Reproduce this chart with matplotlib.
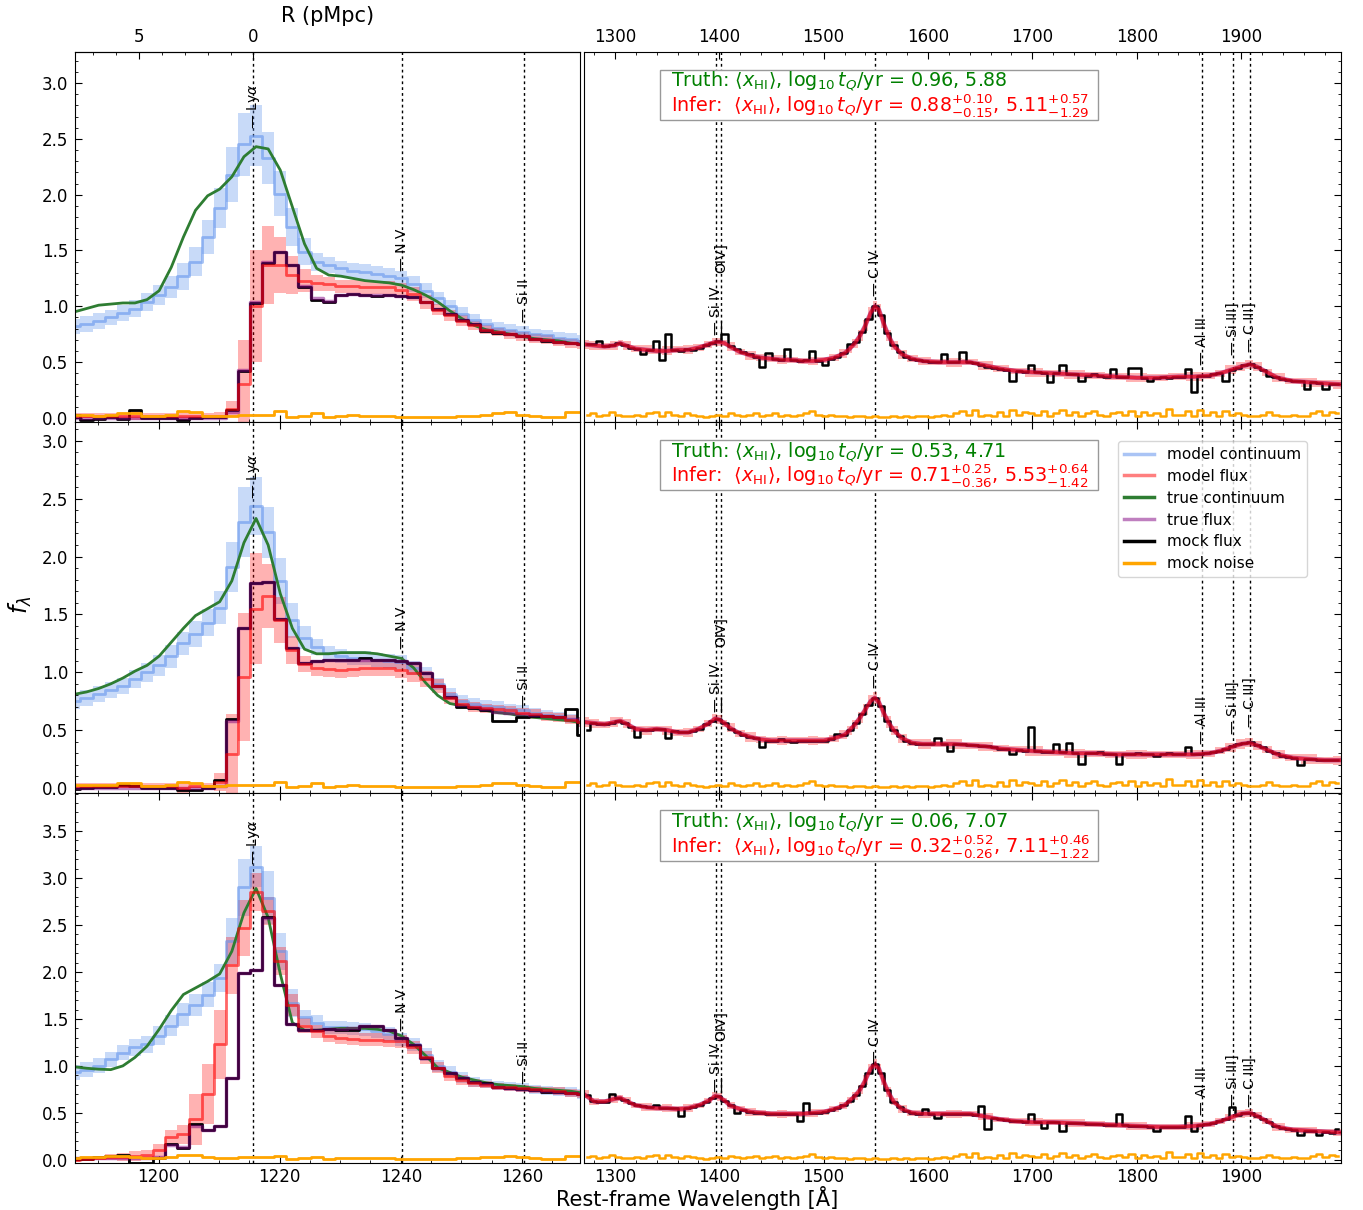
import numpy as np
import matplotlib
matplotlib.use("Agg")
import matplotlib.pyplot as plt
from matplotlib.lines import Line2D
from matplotlib.patches import Rectangle
from matplotlib.ticker import MultipleLocator, FixedLocator

# ------------------------------------------------------------------ data
LYA = 1215.67
ANG_PER_PMPC = 3.78

# left panels: 2 A bins (centres)
lam_left = 1186.1 + 2.0 * np.arange(43)

# ---- row 1
mc1 = [0.82,0.84,0.87,0.90,0.94,0.98,1.04,1.10,1.17,1.27,1.40,1.62,1.88,2.18,2.45,2.53,2.33,2.01,1.71,1.49,
       1.40,1.37,1.34,1.32,1.31,1.29,1.27,1.25,1.20,1.14,1.07,1.00,0.93,0.88,0.84,0.81,0.79,0.77,0.75,0.74,
       0.72,0.71,0.69]
mc1_err = [0.07,0.07,0.07,0.07,0.07,0.08,0.08,0.09,0.10,0.12,0.13,0.15,0.18,0.25,0.28,0.27,0.23,0.20,0.17,0.12,
           0.08,0.07,0.07,0.07,0.07,0.07,0.07,0.07,0.07,0.07,0.06,0.06,0.06,0.05,0.05,0.05,0.05,0.05,0.05,0.05,
           0.05,0.05,0.05]
mf1 = [0.02,0.02,0.02,0.02,0.02,0.02,0.02,0.02,0.02,0.02,0.02,0.02,0.02,0.08,0.30,1.00,1.37,1.37,1.28,1.23,
       1.21,1.20,1.18,1.18,1.17,1.17,1.17,1.15,1.11,1.04,0.97,0.92,0.87,0.83,0.79,0.77,0.75,0.73,0.71,0.70,
       0.68,0.67,0.66]
mf1_err = [0.02,0.02,0.02,0.02,0.02,0.04,0.02,0.02,0.02,0.04,0.02,0.02,0.03,0.07,0.40,0.50,0.35,0.25,0.17,0.10,
           0.07,0.06,0.06,0.06,0.06,0.06,0.06,0.06,0.06,0.06,0.05,0.05,0.05,0.04,0.04,0.04,0.04,0.04,0.04,0.04,
           0.04,0.04,0.04]
tc1 = [0.95,0.98,1.01,1.02,1.03,1.03,1.06,1.14,1.35,1.62,1.86,1.99,2.05,2.16,2.34,2.43,2.41,2.22,1.89,1.56,
       1.34,1.28,1.27,1.25,1.23,1.22,1.21,1.19,1.15,1.10,1.04,0.96,0.89,0.83,0.79,0.77,0.75,0.73,0.71,0.70,
       0.69,0.67,0.66]
tf1 = [0.0,0.0,0.0,0.0,0.0,0.0,0.0,0.0,0.0,0.0,0.0,0.0,0.0,0.05,0.43,1.04,1.40,1.49,1.37,1.18,
       1.07,1.05,1.10,1.11,1.10,1.10,1.10,1.09,1.08,1.04,0.98,0.93,0.88,0.84,0.79,0.77,0.75,0.73,0.71,0.70,
       0.68,0.67,0.66]
mk1 = [0.03,-0.02,-0.01,0.01,-0.01,0.07,0.00,0.00,0.00,-0.02,0.00,0.01,0.01,0.07,0.42,1.03,1.39,1.49,1.37,1.17,
       1.06,1.04,1.10,1.11,1.10,1.09,1.10,1.09,1.08,1.04,0.98,0.93,0.88,0.84,0.78,0.76,0.75,0.73,0.71,0.69,
       0.68,0.67,0.66]
ns1 = [0.03,0.03,0.02,0.03,0.04,0.04,0.02,0.02,0.03,0.06,0.05,0.02,0.02,0.02,0.03,0.03,0.03,0.06,0.01,0.02,
       0.04,0.01,0.02,0.03,0.02,0.02,0.02,0.01,0.01,0.01,0.01,0.01,0.02,0.02,0.03,0.04,0.05,0.03,0.02,0.01,
       0.01,0.05,0.05]

# ---- row 2
mc2 = [0.75,0.78,0.81,0.85,0.88,0.94,1.00,1.06,1.14,1.25,1.33,1.43,1.56,1.91,2.30,2.44,2.21,1.79,1.45,1.30,
       1.22,1.17,1.14,1.12,1.12,1.11,1.10,1.09,1.04,0.99,0.90,0.81,0.75,0.73,0.71,0.70,0.68,0.67,0.65,0.63,
       0.62,0.60,0.57]
mc2_err = [0.07,0.07,0.07,0.07,0.07,0.08,0.08,0.09,0.10,0.10,0.11,0.12,0.14,0.22,0.30,0.25,0.22,0.20,0.15,0.10,
           0.07,0.06,0.06,0.06,0.06,0.06,0.06,0.06,0.06,0.06,0.05,0.05,0.05,0.05,0.05,0.05,0.05,0.05,0.04,0.04,
           0.04,0.04,0.04]
mf2 = [0.02,0.02,0.02,0.02,0.02,0.02,0.02,0.02,0.02,0.00,0.02,0.02,0.05,0.29,0.96,1.55,1.66,1.45,1.19,1.07,
       1.04,1.03,1.02,1.03,1.04,1.04,1.04,1.02,0.99,0.94,0.88,0.78,0.73,0.70,0.69,0.68,0.67,0.65,0.64,0.62,
       0.61,0.59,0.57]
mf2_err = [0.02,0.02,0.02,0.02,0.02,0.02,0.02,0.02,0.02,0.04,0.02,0.02,0.08,0.35,0.55,0.48,0.28,0.20,0.12,0.07,
           0.07,0.07,0.07,0.07,0.07,0.07,0.07,0.07,0.07,0.07,0.06,0.05,0.04,0.04,0.04,0.04,0.04,0.04,0.04,0.04,
           0.04,0.04,0.04]
tc2 = [0.81,0.83,0.86,0.90,0.95,1.01,1.06,1.14,1.26,1.38,1.49,1.55,1.61,1.79,2.12,2.33,2.10,1.68,1.38,1.20,
       1.16,1.16,1.17,1.17,1.17,1.16,1.14,1.12,1.04,0.91,0.80,0.73,0.71,0.69,0.67,0.65,0.64,0.62,0.61,0.60,
       0.59,0.58,0.56]
tf2 = [0.0,0.0,0.0,0.0,0.0,0.0,0.0,0.0,0.0,0.0,0.0,0.0,0.02,0.58,1.38,1.77,1.78,1.46,1.21,1.08,
       1.10,1.11,1.11,1.11,1.11,1.11,1.11,1.10,1.08,0.99,0.88,0.79,0.72,0.70,0.68,0.66,0.65,0.64,0.63,0.62,
       0.61,0.60,0.58]
mk2 = [-0.01,0.00,0.01,0.01,0.03,0.02,0.00,0.00,0.00,-0.02,-0.02,0.00,0.07,0.60,1.38,1.77,1.78,1.46,1.21,1.08,
       1.10,1.11,1.11,1.11,1.12,1.11,1.11,1.10,1.08,0.99,0.88,0.79,0.70,0.69,0.67,0.58,0.58,0.61,0.62,0.62,
       0.61,0.68,0.46]
ns2 = [0.03,0.03,0.03,0.03,0.04,0.04,0.02,0.02,0.03,0.05,0.04,0.02,0.02,0.03,0.03,0.03,0.03,0.05,0.01,0.02,
       0.04,0.01,0.02,0.03,0.02,0.02,0.02,0.01,0.01,0.01,0.01,0.01,0.02,0.02,0.03,0.04,0.04,0.03,0.02,0.01,
       0.01,0.05,0.05]

# ---- row 3
mc3 = [0.93,0.96,1.00,1.07,1.14,1.20,1.23,1.32,1.43,1.55,1.65,1.76,1.94,2.33,2.90,3.12,2.79,2.22,1.67,1.52,
       1.46,1.41,1.41,1.40,1.39,1.37,1.34,1.28,1.23,1.12,1.00,0.94,0.88,0.83,0.81,0.79,0.78,0.77,0.75,0.74,
       0.73,0.72,0.70]
mc3_err = [0.08,0.08,0.08,0.08,0.08,0.09,0.09,0.10,0.11,0.12,0.12,0.13,0.15,0.25,0.30,0.22,0.28,0.20,0.15,0.08,
           0.08,0.07,0.07,0.07,0.07,0.07,0.07,0.07,0.07,0.07,0.06,0.06,0.06,0.05,0.05,0.05,0.05,0.05,0.05,0.05,
           0.05,0.05,0.05]
mf3 = [0.00,0.01,0.02,0.03,0.03,0.04,0.05,0.10,0.24,0.27,0.43,0.70,1.23,2.07,2.47,2.85,2.65,2.12,1.65,1.43,
       1.37,1.32,1.30,1.29,1.28,1.28,1.27,1.26,1.20,1.09,0.98,0.89,0.85,0.82,0.80,0.78,0.77,0.76,0.75,0.74,
       0.73,0.71,0.70]
mf3_err = [0.02,0.02,0.02,0.03,0.04,0.05,0.05,0.07,0.08,0.10,0.27,0.32,0.37,0.30,0.30,0.20,0.15,0.15,0.12,0.08,
           0.07,0.07,0.07,0.07,0.07,0.07,0.07,0.07,0.07,0.07,0.06,0.05,0.05,0.04,0.04,0.04,0.04,0.04,0.04,0.04,
           0.04,0.04,0.04]
tc3 = [0.99,0.975,0.965,0.96,1.00,1.09,1.21,1.39,1.59,1.76,1.83,1.90,1.98,2.22,2.63,2.89,2.58,1.98,1.46,1.38,
       1.38,1.39,1.40,1.40,1.40,1.39,1.37,1.32,1.23,1.11,0.98,0.93,0.88,0.85,0.82,0.80,0.79,0.78,0.76,0.75,
       0.74,0.73,0.71]
tf3 = [0.02,0.02,0.02,0.02,0.02,0.02,0.02,0.03,0.16,0.14,0.36,0.32,0.36,0.87,1.99,2.02,2.58,1.86,1.45,1.38,
       1.38,1.39,1.39,1.40,1.42,1.43,1.38,1.30,1.22,1.08,0.98,0.92,0.87,0.83,0.81,0.78,0.76,0.75,0.74,0.73,
       0.72,0.71,0.70]
mk3 = [0.02,0.01,0.03,0.04,0.05,-0.03,-0.03,0.02,0.17,0.13,0.38,0.32,0.36,0.87,1.99,2.02,2.59,1.86,1.45,1.38,
       1.38,1.39,1.38,1.38,1.42,1.43,1.38,1.30,1.22,1.08,0.98,0.92,0.87,0.83,0.82,0.78,0.76,0.75,0.74,0.72,
       0.72,0.71,0.70]
ns3 = [0.02,0.03,0.03,0.04,0.04,0.03,0.02,0.02,0.03,0.05,0.05,0.03,0.02,0.02,0.03,0.03,0.03,0.04,0.01,0.02,
       0.03,0.01,0.02,0.02,0.02,0.02,0.02,0.01,0.01,0.01,0.01,0.01,0.02,0.02,0.03,0.03,0.04,0.03,0.02,0.01,
       0.01,0.04,0.04]

# right panels: smooth spectrum nodes (Angstrom)
lam_nodes = [1270,1280,1290,1300,1305,1310,1320,1330,1340,1350,1360,1370,1380,1390,1396,1400,1405,1410,1420,1430,
             1440,1450,1460,1470,1480,1490,1500,1510,1520,1525,1530,1535,1540,1545,1549,1553,1557,1562,1567,1575,
             1585,1595,1610,1625,1640,1655,1670,1685,1700,1720,1740,1760,1780,1800,1820,1840,1855,1870,1880,1890,
             1900,1908,1915,1925,1935,1950,1965,1980,1997]
cont_r1 = [0.66,0.65,0.64,0.65,0.67,0.65,0.62,0.61,0.60,0.60,0.61,0.61,0.63,0.66,0.68,0.68,0.67,0.64,0.59,0.56,
           0.54,0.53,0.52,0.52,0.51,0.51,0.52,0.54,0.58,0.62,0.67,0.74,0.83,0.94,1.00,0.97,0.86,0.74,0.65,0.57,
           0.53,0.51,0.50,0.50,0.50,0.47,0.44,0.42,0.41,0.40,0.39,0.38,0.37,0.36,0.36,0.37,0.37,0.38,0.40,0.43,
           0.46,0.48,0.46,0.41,0.36,0.33,0.32,0.31,0.30]
cont_r2 = [0.57,0.56,0.55,0.57,0.58,0.56,0.51,0.50,0.51,0.50,0.48,0.48,0.51,0.56,0.60,0.59,0.56,0.52,0.47,0.44,
           0.42,0.41,0.41,0.41,0.41,0.41,0.41,0.43,0.46,0.50,0.55,0.61,0.68,0.75,0.78,0.74,0.66,0.57,0.50,0.43,
           0.39,0.38,0.38,0.38,0.37,0.36,0.34,0.33,0.32,0.31,0.30,0.30,0.29,0.29,0.29,0.29,0.29,0.30,0.32,0.35,
           0.38,0.39,0.37,0.33,0.29,0.26,0.25,0.24,0.24]
cont_r3 = [0.70,0.62,0.62,0.65,0.66,0.63,0.58,0.56,0.55,0.55,0.54,0.55,0.58,0.63,0.68,0.67,0.63,0.58,0.54,0.51,
           0.50,0.49,0.49,0.49,0.49,0.50,0.51,0.54,0.58,0.63,0.68,0.75,0.85,0.97,1.02,0.97,0.85,0.72,0.62,0.54,
           0.50,0.49,0.49,0.49,0.49,0.46,0.43,0.41,0.40,0.40,0.39,0.38,0.37,0.36,0.35,0.35,0.36,0.38,0.41,0.45,
           0.49,0.50,0.47,0.41,0.35,0.32,0.31,0.30,0.29]
mf_err_right = [0.04,0.04,0.03,0.04,0.03,0.04,0.03,0.04,0.03,0.04,0.03,0.04,0.03,0.03,0.04,0.04,0.03,0.04,0.03,0.04,
                0.03,0.03,0.04,0.03,0.03,0.04,0.03,0.03,0.04,0.04,0.04,0.05,0.05,0.05,0.05,0.05,0.05,0.05,0.04,0.04,
                0.03,0.04,0.03,0.04,0.03,0.04,0.03,0.03,0.04,0.03,0.04,0.03,0.03,0.04,0.03,0.03,0.04,0.03,0.03,0.04,
                0.04,0.04,0.04,0.03,0.04,0.03,0.04,0.03,0.04]

# right panels: 6 A bins for mock flux / noise
lam_rbins = 1273.0 + 6.0 * np.arange(121)
mk_r1 = [0.66,0.66,0.69,0.64,0.65,0.67,0.65,0.63,0.62,0.57, 0.61,0.69,0.52,0.75,0.61,0.60,0.62,0.61,0.63,0.65,
         0.67,0.69,0.75,0.64,0.62,0.59,0.57,0.55,0.46,0.58, 0.53,0.52,0.62,0.52,0.51,0.52,0.60,0.51,0.47,0.53,
         0.55,0.58,0.66,0.68,0.77,0.89,1.00,0.92,0.76,0.65, 0.59,0.55,0.53,0.52,0.51,0.50,0.50,0.57,0.50,0.50,
         0.59,0.50,0.49,0.47,0.46,0.45,0.44,0.43,0.33,0.42, 0.41,0.47,0.41,0.40,0.32,0.40,0.47,0.39,0.39,0.33,
         0.38,0.39,0.38,0.37,0.44,0.37,0.37,0.45,0.45,0.36, 0.33,0.36,0.37,0.36,0.37,0.37,0.44,0.23,0.38,0.38,
         0.39,0.40,0.33,0.43,0.45,0.47,0.48,0.46,0.43,0.38, 0.37,0.35,0.34,0.33,0.33,0.26,0.32,0.31,0.26,0.30,
         0.30]
mk_r2 = [0.50,0.56,0.55,0.55,0.56,0.58,0.56,0.53,0.44,0.50, 0.50,0.51,0.51,0.43,0.49,0.48,0.48,0.49,0.51,0.55,
         0.58,0.60,0.56,0.51,0.48,0.46,0.44,0.43,0.35,0.41, 0.41,0.42,0.41,0.40,0.41,0.41,0.41,0.41,0.41,0.42,
         0.47,0.46,0.50,0.56,0.64,0.72,0.78,0.71,0.58,0.50, 0.45,0.41,0.39,0.38,0.38,0.38,0.43,0.38,0.32,0.38,
         0.38,0.37,0.37,0.36,0.36,0.35,0.34,0.34,0.29,0.33, 0.32,0.53,0.32,0.31,0.31,0.38,0.31,0.39,0.30,0.21,
         0.30,0.30,0.31,0.29,0.29,0.21,0.29,0.29,0.30,0.29, 0.29,0.28,0.29,0.30,0.29,0.29,0.35,0.29,0.29,0.30,
         0.31,0.32,0.34,0.36,0.38,0.39,0.40,0.37,0.35,0.32, 0.30,0.28,0.27,0.26,0.20,0.25,0.25,0.24,0.24,0.24,
         0.24]
mk_r3 = [0.69,0.63,0.62,0.62,0.70,0.66,0.64,0.60,0.58,0.57, 0.56,0.58,0.55,0.55,0.55,0.47,0.55,0.56,0.58,0.62,
         0.66,0.68,0.63,0.58,0.50,0.53,0.51,0.50,0.50,0.49, 0.49,0.49,0.49,0.49,0.41,0.61,0.50,0.50,0.51,0.53,
         0.55,0.58,0.63,0.69,0.79,0.92,1.02,0.92,0.74,0.62, 0.56,0.52,0.50,0.49,0.54,0.49,0.45,0.49,0.49,0.49,
         0.49,0.49,0.48,0.57,0.33,0.45,0.43,0.42,0.41,0.41, 0.40,0.49,0.40,0.34,0.40,0.40,0.31,0.39,0.39,0.39,
         0.38,0.38,0.38,0.37,0.37,0.49,0.37,0.36,0.36,0.36, 0.35,0.31,0.35,0.35,0.35,0.35,0.47,0.31,0.37,0.38,
         0.39,0.41,0.43,0.56,0.48,0.50,0.50,0.47,0.43,0.40, 0.36,0.34,0.33,0.32,0.26,0.31,0.31,0.26,0.30,0.29,
         0.33]
ns_right = [0.03,0.04,0.02,0.03,0.05,0.03,0.02,0.02,0.03,0.02, 0.04,0.05,0.02,0.05,0.03,0.02,0.04,0.03,0.02,0.01,
            0.02,0.03,0.02,0.04,0.03,0.02,0.03,0.04,0.02,0.03, 0.04,0.02,0.03,0.02,0.03,0.04,0.06,0.03,0.02,0.03,
            0.02,0.02,0.01,0.02,0.02,0.01,0.02,0.01,0.01,0.02, 0.01,0.02,0.01,0.02,0.02,0.01,0.02,0.03,0.02,0.04,
            0.06,0.03,0.07,0.02,0.03,0.02,0.05,0.02,0.07,0.03, 0.05,0.04,0.03,0.06,0.02,0.04,0.07,0.03,0.05,0.02,
            0.04,0.06,0.03,0.02,0.04,0.05,0.03,0.06,0.02,0.05, 0.03,0.04,0.02,0.08,0.03,0.03,0.06,0.02,0.07,0.03,
            0.05,0.02,0.06,0.03,0.04,0.03,0.02,0.02,0.03,0.05, 0.03,0.02,0.02,0.03,0.02,0.02,0.04,0.06,0.03,0.05,
            0.04]

truth_vals = [("0.96", "5.88"), ("0.53", "4.71"), ("0.06", "7.07")]
infer_vals = [("0.88", "+0.10", "-0.15", "5.11", "+0.57", "-1.29"),
              ("0.71", "+0.25", "-0.36", "5.53", "+0.64", "-1.42"),
              ("0.32", "+0.52", "-0.26", "7.11", "+0.46", "-1.22")]

left_lines = [("Ly$\\alpha$", 1215.67), ("N V", 1240.14), ("Si II", 1260.42)]
right_lines = [("Si IV", 1396.76), ("OIV]", 1402.06), ("C IV", 1549.06),
               ("Al III", 1862.79), ("Si III]", 1892.03), ("C III]", 1908.73)]

legend_labels = ["model continuum", "model flux", "true continuum", "true flux", "mock flux", "mock noise"]

# ------------------------------------------------------------------ style / layout
GREEN = "#2e7d32"
C_MC = "cornflowerblue"
C_MF = "red"
C_TF = "purple"
C_NS = "orange"

rows_left = [
    (mc1, mc1_err, mf1, mf1_err, tc1, tf1, mk1, ns1),
    (mc2, mc2_err, mf2, mf2_err, tc2, tf2, mk2, ns2),
    (mc3, mc3_err, mf3, mf3_err, tc3, tf3, mk3, ns3),
]
rows_right = [(cont_r1, mk_r1), (cont_r2, mk_r2), (cont_r3, mk_r3)]
ylims = [(-0.039, 3.278), (-0.040, 3.161), (-0.033, 3.91)]

# label heights (bottom of text, data units) per row
lab_y_left = [{"Ly$\\alpha$": 2.59, "N V": 1.32, "Si II": 0.86},
              {"Ly$\\alpha$": 2.50, "N V": 1.20, "Si II": 0.69},
              {"Ly$\\alpha$": 3.14, "N V": 1.37, "Si II": 0.81}]
lab_y_right = [{"Si IV": 0.74, "OIV]": 1.30, "C IV": 1.09, "Al III": 0.47, "Si III]": 0.56, "C III]": 0.59},
               {"Si IV": 0.66, "OIV]": 1.22, "C IV": 0.86, "Al III": 0.38, "Si III]": 0.47, "C III]": 0.53},
               {"Si IV": 0.72, "OIV]": 1.27, "C IV": 1.02, "Al III": 0.48, "Si III]": 0.56, "C III]": 0.56}]

W, H = 1363, 1210
fig = plt.figure(figsize=(W / 100, H / 100), dpi=100)

xl0, xl1 = 75, 580
xr0, xr1 = 584, 1341
top0 = 52
row_h = 370.3

FS_TICK = 12
LAB_FS = 10
DOT = (0, (2, 2.2))
BOX_FS = 13.8


def to_fig(x0, x1, y_top, y_bot):
    return [x0 / W, 1 - y_bot / H, (x1 - x0) / W, (y_bot - y_top) / H]


def step(ax, x, y, **kw):
    n = min(len(x), len(y))
    ax.plot(np.asarray(x)[:n], np.asarray(y)[:n], drawstyle="steps-mid", **kw)


def band(ax, x, y, e, **kw):
    n = min(len(x), len(y), len(e))
    y = np.asarray(y[:n]); e = np.asarray(e[:n])
    ax.fill_between(np.asarray(x)[:n], y - e, y + e, step="mid", lw=0, **kw)


rw = xr1 - xr0
for i in range(3):
    yt = top0 + row_h * i
    yb = yt + row_h
    axL = fig.add_axes(to_fig(xl0, xl1, yt, yb))
    axR = fig.add_axes(to_fig(xr0, xr1, yt, yb))
    ylo, yhi = ylims[i]
    px_per_unit = row_h / (yhi - ylo)

    mc, mce, mf, mfe, tc, tf, mk, ns = rows_left[i]
    # ---- left panel
    band(axL, lam_left, mc, mce, color=C_MC, alpha=0.35)
    band(axL, lam_left, mf, mfe, color=C_MF, alpha=0.3)
    step(axL, lam_left, mc, color=C_MC, alpha=0.6, lw=2)
    n = min(len(lam_left), len(tc))
    axL.plot(lam_left[:n], tc[:n], color=GREEN, lw=2)
    step(axL, lam_left, mk, color="k", lw=2)
    step(axL, lam_left, tf, color=C_TF, alpha=0.5, lw=2.5)
    step(axL, lam_left, mf, color=C_MF, alpha=0.6, lw=2)
    step(axL, lam_left, ns, color=C_NS, lw=2)

    for name, w in left_lines:
        axL.axvline(w, color="k", ls=DOT, lw=1.0, zorder=0.5)
        axL.text(w, lab_y_left[i][name], "\u2014 " + name, rotation=90, ha="center", va="bottom",
                 fontsize=LAB_FS)

    axL.set_xlim(1186.2, 1269.6)
    axL.set_ylim(ylo, yhi)
    axL.xaxis.set_major_locator(MultipleLocator(20))
    axL.xaxis.set_minor_locator(MultipleLocator(5))
    axL.yaxis.set_major_locator(MultipleLocator(0.5))
    axL.yaxis.set_minor_locator(MultipleLocator(0.1))
    axL.tick_params(which="both", direction="in", top=(i > 0), bottom=True, left=True, right=False,
                    labelbottom=(i == 2), labeltop=False, labelsize=FS_TICK, pad=5)
    axL.tick_params(axis="x", which="both", pad=3.5)
    axL.tick_params(which="major", length=5)
    axL.tick_params(which="minor", length=2.5)

    if i == 0:
        sec = axL.secondary_xaxis("top", functions=(lambda l: (LYA - l) / ANG_PER_PMPC,
                                                    lambda r: LYA - ANG_PER_PMPC * r))
        sec.set_xticks([0, 5])
        sec.xaxis.set_minor_locator(FixedLocator([1, 2, 3, 4, 6, 7]))
        sec.tick_params(which="both", direction="in", labelsize=FS_TICK, pad=4.5)
        sec.tick_params(which="major", length=5)
        sec.tick_params(which="minor", length=2.5)
        sec.set_xlabel("R (pMpc)", fontsize=15, labelpad=4)

    # ---- right panel
    cont, mkr = rows_right[i]
    band(axR, lam_nodes, cont, mf_err_right, color=C_MF, alpha=0.3)
    step(axR, lam_rbins, mkr, color="k", lw=1.8)
    axR.plot(lam_nodes, cont, color=C_TF, alpha=0.5, lw=3.2)
    axR.plot(lam_nodes, cont, color=C_MF, alpha=0.55, lw=2.5)
    step(axR, lam_rbins, ns_right, color=C_NS, lw=1.8)

    for name, w in right_lines:
        axR.axvline(w, color="k", ls=DOT, lw=1.0, zorder=0.5)
        if name == "OIV]":
            # dash sits level with the Si IV dash, name is drawn higher up
            y0 = lab_y_right[i]["Si IV"]
            dash = LAB_FS * 100 / 72 / px_per_unit
            axR.plot([w, w], [y0, y0 + dash], color="k", lw=0.9)
            axR.text(w, lab_y_right[i][name], name, rotation=90, ha="center", va="bottom",
                     fontsize=LAB_FS)
        else:
            axR.text(w, lab_y_right[i][name], "\u2014 " + name, rotation=90, ha="center", va="bottom",
                     fontsize=LAB_FS)

    axR.set_xlim(1270.3, 1995.8)
    axR.set_ylim(ylo, yhi)
    axR.xaxis.set_major_locator(MultipleLocator(100))
    axR.xaxis.set_minor_locator(MultipleLocator(20))
    axR.yaxis.set_major_locator(MultipleLocator(0.5))
    axR.yaxis.set_minor_locator(MultipleLocator(0.1))
    axR.tick_params(which="both", direction="in", top=True, bottom=True, left=False, right=True,
                    labelleft=False, labelright=False, labeltop=(i == 0), labelbottom=(i == 2),
                    labelsize=FS_TICK, pad=5)
    axR.tick_params(axis="x", which="both", pad=(4.5 if i == 0 else 3.5))
    axR.tick_params(which="major", length=5)
    axR.tick_params(which="minor", length=2.5)

    # ---- parameter box (pixel layout inside the right panel)
    bx0, bx1 = (660 - xr0) / rw, (1098 - xr0) / rw
    by1 = 1 - 17.5 / row_h
    by0 = 1 - 68.0 / row_h
    axR.add_patch(Rectangle((bx0, by0), bx1 - bx0, by1 - by0, transform=axR.transAxes,
                            facecolor="white", edgecolor="0.6", lw=1.0, zorder=5))
    tv = truth_vals[i]
    iv = infer_vals[i]
    t1 = ("Truth: $\\langle x_{\\rm HI}\\rangle$, $\\log_{10} t_Q$/yr = %s, %s" % tv)
    t2 = ("Infer:  $\\langle x_{\\rm HI}\\rangle$, $\\log_{10} t_Q$/yr = "
          "$%s^{%s}_{%s}$, $%s^{%s}_{%s}$" % iv)
    tx = (671 - xr0) / rw
    axR.text(tx, 1 - 34.5 / row_h, t1, transform=axR.transAxes, color="green", fontsize=BOX_FS,
             ha="left", va="baseline", zorder=6)
    axR.text(tx, 1 - 59.5 / row_h, t2, transform=axR.transAxes, color="red", fontsize=BOX_FS,
             ha="left", va="baseline", zorder=6)

    if i == 1:
        handles = [
            Line2D([], [], color=C_MC, alpha=0.55, lw=2.5),
            Line2D([], [], color=C_MF, alpha=0.5, lw=2.5),
            Line2D([], [], color=GREEN, lw=2.5),
            Line2D([], [], color=C_TF, alpha=0.5, lw=2.5),
            Line2D([], [], color="k", lw=2.5),
            Line2D([], [], color=C_NS, lw=2.5),
        ]
        axR.legend(handles, legend_labels, loc="upper right", bbox_to_anchor=(0.955, 0.95),
                   fontsize=11, labelspacing=0.45, borderaxespad=0, handlelength=2.0)

fig.text(697 / W, 1 - 1198 / H, "Rest-frame Wavelength [\u00c5]", ha="center", va="center", fontsize=15)
fig.text(20 / W, 1 - 605 / H, "$f_\\lambda$", ha="center", va="center", rotation=90, fontsize=17)

fig.savefig("out.png", dpi=100)
